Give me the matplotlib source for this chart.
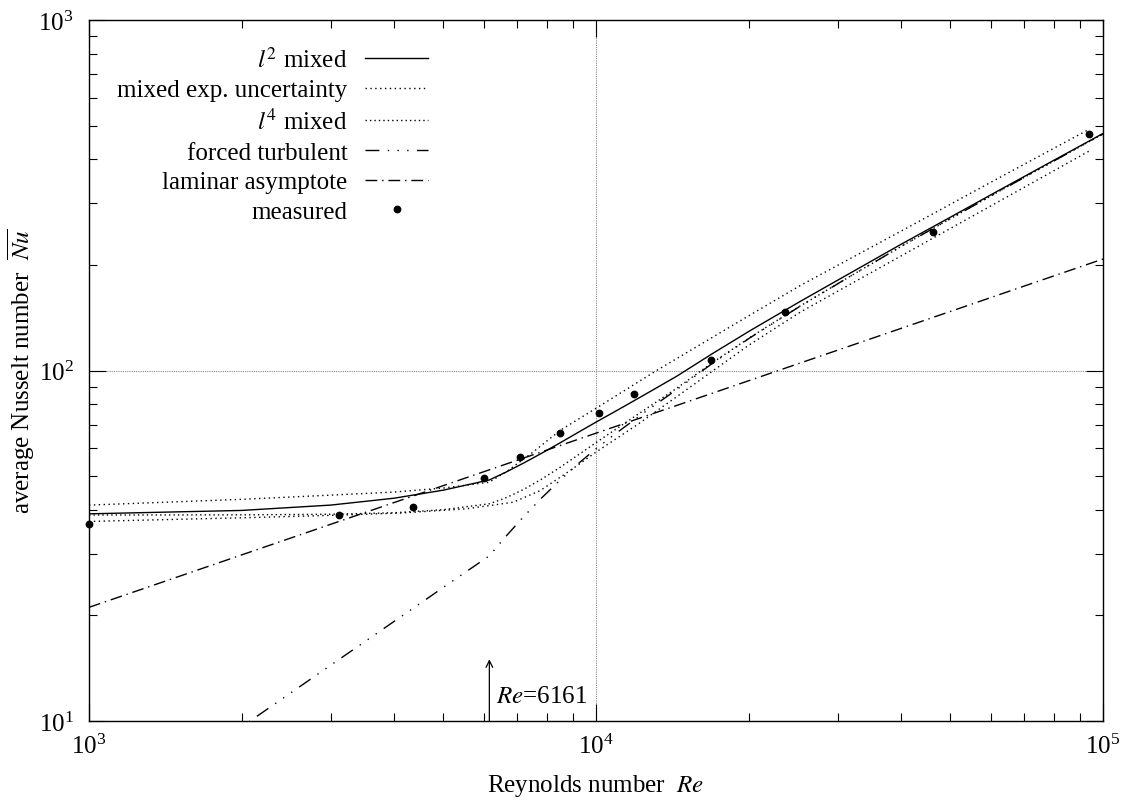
import numpy as np
import matplotlib
matplotlib.use('Agg')
import matplotlib.pyplot as plt
import matplotlib.ticker as ticker

# Times-like fonts, like the gnuplot original
matplotlib.rcParams['font.family'] = 'serif'
matplotlib.rcParams['font.serif'] = ['Liberation Serif', 'DejaVu Serif']
matplotlib.rcParams['mathtext.fontset'] = 'stix'
matplotlib.rcParams['font.size'] = 18

# common Re grid of the correlation curves
re_grid = [1000, 2000, 3000, 4000, 5000, 6161, 6613, 7200, 7813, 8500, 9290, 10000,
           11000, 12500, 14430, 17000, 20130, 25260, 32000, 40000, 50000, 63000,
           80000, 100000]

# l^2 mixed
nu_l2 = [39.0, 39.88, 41.31, 43.22, 45.57, 48.72, 51.12, 54.45, 58.07, 62.20, 67.01,
         71.23, 76.94, 85.46, 96.32, 111.91, 129.90, 157.33, 190.96, 229.29, 273.75,
         329.28, 397.89, 474.58]

# l^4 mixed
nu_l4 = [38.70, 38.74, 38.89, 39.28, 40.07, 41.66, 43.21, 45.79, 48.99, 52.96, 57.84,
         62.27, 68.33, 77.43, 89.01, 105.48, 124.29, 152.66, 187.09, 226.04, 271.02,
         327.01, 396.0, 473.0]

# forced turbulent
nu_turb = [4.81, 9.62, 14.44, 19.25, 24.06, 29.6, 33.4, 38.3, 43.3, 48.7, 54.7, 59.8,
           66.5, 76.2, 88.2, 105.0, 124.0, 152.5, 187.0, 226.0, 271.0, 327.0, 396.0,
           473.0]

# mixed exp. uncertainty, upper and lower bound
re_up = [1000, 2000, 3000, 4000, 5000, 6161, 6700, 7400, 8500, 10000, 13170, 19530,
         25260, 40000, 60000, 93700]
nu_up = [41.3, 42.9, 44.1, 45.0, 46.2, 48.0, 51.8, 57.5, 67.5, 78.0, 100.0, 140.3,
         174.6, 250.0, 344.0, 487.0]
re_lo = [1000, 2000, 3000, 4107, 5550, 6870, 7755, 8887, 10000, 12000, 14430, 20000,
         25260, 40000, 60000, 93700]
nu_lo = [37.1, 38.0, 38.6, 39.2, 40.3, 42.1, 45.4, 51.8, 58.5, 69.7, 84.2, 118.0,
         146.6, 212.4, 294.5, 422.0]

# laminar asymptote
re_lam = [1000, 100000]
nu_lam = [21.1, 208.0]

# measured
re_meas = [1000, 3116, 4350, 6021, 7090, 8503, 10139, 11900, 16880, 23590, 46270, 93720]
nu_meas = [36.5, 38.8, 40.9, 49.4, 56.8, 66.3, 75.6, 85.7, 107.4, 146.8, 248.0, 472.0]

re_crit = 6161

fig = plt.figure(figsize=(11.27, 8.04), dpi=100)
ax = fig.add_axes([89 / 1127, 1 - 722 / 804, (1103 - 89) / 1127, (722 - 21) / 804])
ax.set_xscale('log')
ax.set_yscale('log')

ax.plot(re_grid, nu_l2, color='black', lw=1.0, label=r'$l^2$ mixed')
ax.plot(re_up, nu_up, color='black', lw=1.0, linestyle=(0, (1, 2.5)),
        label='mixed exp. uncertainty')
ax.plot(re_lo, nu_lo, color='black', lw=1.0, linestyle=(0, (1, 2.5)), label='_nolegend_')
ax.plot(re_grid, nu_l4, color='black', lw=1.0, linestyle=(0, (1, 2.2)), label=r'$l^4$ mixed')
ax.plot(re_grid, nu_turb, color='black', lw=1.0,
        linestyle=(0, (10, 6, 1, 6, 1, 6, 1, 6)), label='forced turbulent')
ax.plot(re_lam, nu_lam, color='black', lw=1.0, linestyle=(0, (8.5, 3.5, 1, 3.5)),
        label='laminar asymptote')
ax.plot(re_meas, nu_meas, marker='o', linestyle='None', color='black', ms=4.6,
        clip_on=False, zorder=5, label='measured')

ax.set_xlim(1e3, 1e5)
ax.set_ylim(10, 1000)

ax.grid(True, which='major', color='#888888', lw=0.8, linestyle=(0, (1, 1)))
ax.tick_params(which='both', direction='in', top=True, right=True, width=0.8)
ax.tick_params(which='major', length=12)
ax.tick_params(which='minor', length=6)
ax.tick_params(axis='x', which='major', pad=9)
ax.tick_params(axis='y', which='major', pad=11)
ax.xaxis.set_minor_formatter(ticker.NullFormatter())
ax.yaxis.set_minor_formatter(ticker.NullFormatter())
for sp in ax.spines.values():
    sp.set_linewidth(1.0)

ax.set_xlabel(r'Reynolds number  $Re$', labelpad=10)
ax.set_ylabel(r'average Nusselt number  $\overline{Nu}$', labelpad=1)

# transition marker
ax.annotate('', xy=(re_crit, 15), xytext=(re_crit, 10),
            arrowprops=dict(arrowstyle='->', lw=0.9, color='black',
                            shrinkA=0, shrinkB=0, mutation_scale=12))
ax.annotate(r'$Re$=6161', xy=(re_crit, 10), xytext=(5, 18), textcoords='offset points',
            ha='left', va='center')

# gnuplot style key: text right aligned, sample to the right
leg = ax.legend(loc='upper right', bbox_to_anchor=(0.3343, 0.962), frameon=False,
                markerfirst=False, handlelength=2.5, handletextpad=0.72,
                labelspacing=0.29, borderpad=0, borderaxespad=0, numpoints=1)
for col in leg._legend_handle_box.get_children():
    col.align = 'right'

plt.savefig('out.png', dpi=100)
